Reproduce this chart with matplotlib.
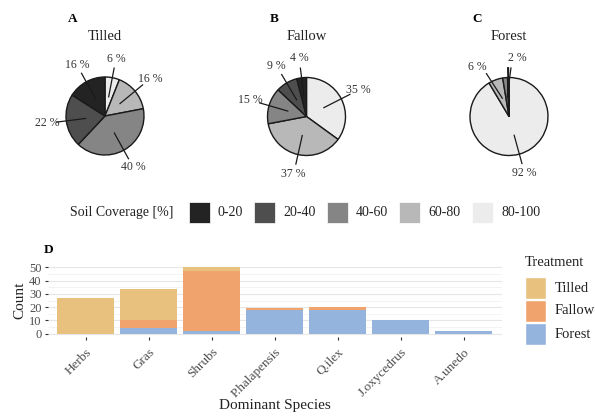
import numpy as np
import matplotlib
matplotlib.use("Agg")
import matplotlib.pyplot as plt
from matplotlib.patches import Rectangle

plt.rcParams["font.family"] = ["Liberation Serif", "DejaVu Serif"]

# ---------------------------------------------------------------------------
# Data
# ---------------------------------------------------------------------------
cover_classes = ["0-20", "20-40", "40-60", "60-80", "80-100"]
cover_colors = ["#232323", "#4e4e4e", "#858585", "#b8b8b8", "#ececec"]

# soil coverage share (%) per class, ordered as cover_classes
tilled_cover = [16, 22, 40, 16, 6]
fallow_cover = [4, 9, 15, 37, 35]
forest_cover = [0.3, 0.3, 2, 6, 92]

species = ["Herbs", "Gras", "Shrubs", "P.halapensis", "Q.ilex",
           "J.oxycedrus", "A.unedo"]
treatments = ["Tilled", "Fallow", "Forest"]
treat_colors = {"Tilled": "#e8c17f", "Fallow": "#f1a36e", "Forest": "#94b4dd"}
count_forest = [0, 4, 2, 18, 18, 10, 2]
count_fallow = [0, 6, 45, 1, 2, 0, 0]
count_tilled = [27, 24, 3, 0, 0, 0, 0]

W, H = 595, 416
fig = plt.figure(figsize=(W / 100, H / 100), dpi=100)
fig.patch.set_facecolor("white")


def box(left, top, right, bottom):
    """pixel box -> figure fraction rect"""
    return [left / W, 1 - bottom / H, (right - left) / W, (bottom - top) / H]


def fx(px):
    return px / W


def fy(py):
    return 1 - py / H


TXT = "#222222"
EDGE = "#1a1a1a"
R_PX = 39.0


# ── Pie charts ──────────────────────────────────────────────────────────────
def draw_pie(cx, cy, values, letter, title, nudge=None):
    """nudge: {class label: (dx, dy)} label offsets in radius units"""
    nudge = nudge or {}
    half = 80
    ax = fig.add_axes(box(cx - half, cy - half, cx + half, cy + half))

    # clockwise from 12 o'clock, lightest class first
    vals = list(values)[::-1]
    cols = cover_colors[::-1]
    labs = cover_classes[::-1]
    ax.pie(vals, colors=cols, startangle=90, counterclock=False, radius=1,
           normalize=True,
           wedgeprops=dict(edgecolor=EDGE, linewidth=1.0))

    total = float(sum(vals))
    cum = 0.0
    for v, lab in zip(vals, labs):
        mid = (cum + v / 2) / total * 2 * np.pi  # clockwise from top
        cum += v
        sx, sy = np.sin(mid), np.cos(mid)
        dx, dy = nudge.get(lab, (0, 0))
        ax.plot([0.5 * sx, 1.25 * sx + 0.5 * dx],
                [0.5 * sy, 1.25 * sy + 0.5 * dy],
                color=EDGE, lw=0.9, zorder=5)
        if round(v) >= 1:
            ax.text(1.5 * sx + dx, 1.5 * sy + dy, f"{round(v)} %",
                    ha="center", va="center", fontsize=8.5, color="#333333")

    lim = half / R_PX
    ax.set_xlim(-lim, lim)
    ax.set_ylim(-lim, lim)
    ax.set_aspect("equal")
    ax.axis("off")

    fig.text(fx(cx - 32), fy(19), letter, fontsize=9.5, fontweight="bold",
             ha="center", va="center", color="black")
    fig.text(fx(cx), fy(37), title, fontsize=10.5, ha="center", va="center",
             color=TXT)


draw_pie(105, 116, tilled_cover, "A", "Tilled")
draw_pie(306.5, 116.5, fallow_cover, "B", "Fallow")
draw_pie(509, 116.5, forest_cover, "C", "Forest",
         nudge={"60-80": (-0.3, -0.15), "40-60": (0.35, 0.0)})

# pie legend
fig.text(fx(70), fy(213), "Soil Coverage [%]", fontsize=10, ha="left",
         va="center", color=TXT)
key_x = [189, 254, 327, 399, 472]
for kx, lab, col in zip(key_x, cover_classes, cover_colors):
    fig.patches.append(Rectangle((fx(kx), fy(223)), 21 / W, 21 / H,
                                 transform=fig.transFigure, facecolor=col,
                                 edgecolor="white", lw=0.5))
    fig.text(fx(kx + 29), fy(213), lab, fontsize=10, ha="left", va="center",
             color=TXT)

# ── Stacked bar chart ───────────────────────────────────────────────────────
ax = fig.add_axes(box(47.7, 264, 501.5, 337))
x = np.arange(len(species))
bottom = np.zeros(len(species))
for name, vals in [("Forest", count_forest), ("Fallow", count_fallow),
                   ("Tilled", count_tilled)]:
    ax.bar(x, vals, width=0.9, bottom=bottom, color=treat_colors[name],
           edgecolor="none", zorder=3, label=name)
    bottom += np.array(vals)

ax.set_xlim(-0.6, len(species) - 0.4)
ax.set_ylim(-2.5, 52.5)
ax.set_yticks([0, 10, 20, 30, 40, 50])
ax.set_yticks(np.arange(5, 50, 10), minor=True)
ax.grid(axis="y", which="major", color="#e6e6e6", lw=0.8, zorder=0)
ax.grid(axis="y", which="minor", color="#eeeeee", lw=0.5, zorder=0)
ax.set_xticks(x)
ax.set_xticklabels(species, rotation=45, ha="right", va="top",
                   rotation_mode="anchor")
ax.tick_params(axis="both", which="major", length=2.5, width=0.8,
               color="#333333", labelcolor="#4d4d4d", labelsize=9, pad=2)
ax.tick_params(axis="x", which="major", pad=4, labelsize=9.5)
ax.tick_params(axis="y", which="minor", length=0)
for s in ax.spines.values():
    s.set_visible(False)
ax.set_facecolor("none")
ax.set_ylabel("Count", fontsize=11, color=TXT, labelpad=2)
fig.text(fx(274.6), fy(406), "Dominant Species", fontsize=11,
         ha="center", va="center", color=TXT)
fig.text(fx(49), fy(250), "D", fontsize=9.5, fontweight="bold", ha="center",
         va="center", color="black")

# bar legend
fig.text(fx(525), fy(262), "Treatment", fontsize=10.5, ha="left",
         va="center", color=TXT)
for i, name in enumerate(treatments):
    top = 277 + i * 23
    fig.patches.append(Rectangle((fx(525), fy(top + 22)), 21 / W, 22 / H,
                                 transform=fig.transFigure,
                                 facecolor=treat_colors[name],
                                 edgecolor="white", lw=1.0))
    fig.text(fx(555), fy(top + 11), name, fontsize=10.5, ha="left",
             va="center", color=TXT)

fig.savefig("out.png", dpi=100)
